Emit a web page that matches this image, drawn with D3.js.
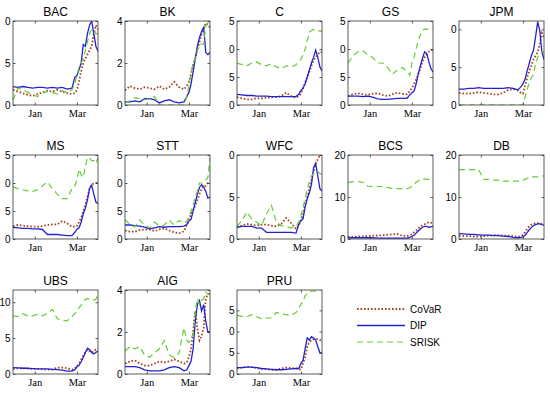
<!DOCTYPE html>
<html>
<head>
<meta http-equiv="Content-Type" content="text/html;charset=utf-8"/>
<title>CoVaR / DIP / SRISK</title>
<script src="https://d3js.org/d3.v7.min.js"></script>
<style>
	body { margin: 0; background: #fff; }
	text { font-family: "Liberation Sans", Arial, sans-serif; fill: #000; }
	.title { font-size: 12px; }
	.ylab { font-size: 10px; }
	.xlab { font-family: "Liberation Serif", "Times New Roman", serif; font-size: 10.5px; }
	.legend text { font-size: 10px; }
	.frame { fill: none; stroke: #333; stroke-width: 0.8px; }
	.tick line { stroke: #333; stroke-width: 0.8px; }
</style>
</head>
<body>
<svg width="550" height="393"></svg>
<script>
// institutions, in panel order
var banks = ["BAC", "BK", "C", "GS", "JPM", "MS", "STT", "WFC", "BCS", "DB", "UBS", "AIG", "PRU"];

// sample days, counted from 1 Dec 2019
var days = [0, 7, 14, 21, 28, 35, 42, 49, 56, 63, 70, 77, 84, 88, 91, 94, 97, 100, 103, 106, 109, 112, 115, 118, 121];

// upper y limit and y ticks per panel
var yMax = {BAC: 10, BK: 4, C: 15, GS: 15, JPM: 11.1, MS: 15, STT: 15, WFC: 10, BCS: 20, DB: 20, UBS: 11.7, AIG: 4, PRU: 19.8};
var yTicks = {BAC: [0, 5, 10], BK: [0, 2, 4], C: [0, 5, 10, 15], GS: [0, 5, 10, 15], JPM: [0, 5, 10],
	MS: [0, 5, 10, 15], STT: [0, 5, 10, 15], WFC: [0, 5, 10], BCS: [0, 10, 20], DB: [0, 10, 20],
	UBS: [0, 5, 10], AIG: [0, 2, 4], PRU: [0, 5, 10, 15]};
// panels whose leading tick digit is cut off in the original
var cutLabels = ["BAC", "C", "GS", "JPM", "MS", "STT", "WFC", "PRU"];

var xTicks = [new Date(2020, 0, 1), new Date(2020, 2, 1)];

var covar = {
	BAC: [1.8,1.6,1.4,1.2,1.1,1.3,1.5,1.7,1.6,1.8,1.6,1.4,1.3,1.4,1.8,2.8,4.0,5.0,5.5,6.0,6.5,7.0,8.5,9.5,9.0],
	BK:  [0.7,0.9,0.8,0.75,0.85,0.8,0.75,0.9,0.75,0.85,1.1,0.85,0.75,0.9,1.1,1.5,1.9,2.2,2.6,3.0,3.4,3.6,3.9,3.8,3.7],
	C:   [1.4,1.2,1.0,1.0,1.2,1.2,1.3,1.4,1.4,1.6,2.2,1.6,1.3,1.6,2.0,3.0,4.0,5.0,6.0,7.0,8.0,8.5,9.0,9.5,9.5],
	GS:  [1.6,1.9,2.1,1.9,1.8,2.0,2.1,1.8,1.6,1.9,2.2,2.0,1.9,2.5,3.0,3.8,4.5,5.5,6.5,7.8,8.5,9.0,9.5,9.8,9.8],
	JPM: [1.6,1.5,1.5,1.6,1.7,1.6,1.5,1.4,1.4,1.6,2.0,2.1,1.9,1.6,1.5,2.5,3.6,4.5,5.2,6.0,6.5,7.0,8.0,9.5,9.0],
	MS:  [2.3,2.5,2.4,2.3,2.2,2.2,2.3,2.5,2.6,2.6,3.2,2.8,2.2,2.2,2.3,3.0,3.8,5.0,6.0,7.5,9.0,9.7,9.9,10.0,10.0],
	STT: [1.5,1.3,1.3,1.6,1.7,1.7,1.4,1.7,1.9,1.5,1.2,1.0,1.4,2.5,3.5,4.5,5.2,6.0,7.0,8.0,9.0,9.5,9.5,10.0,10.0],
	WFC: [1.4,1.6,1.8,1.7,1.6,1.7,1.7,1.6,1.5,1.8,2.5,1.9,1.2,1.6,2.2,3.0,4.2,5.0,6.0,7.0,8.0,9.0,9.5,10.0,10.0],
	BCS: [0.5,0.5,0.6,0.6,0.7,0.8,0.8,0.9,1.0,1.1,1.2,0.8,0.7,0.9,1.1,1.6,2.0,2.5,3.0,3.3,3.5,3.8,4.0,3.9,3.8],
	DB:  [0.8,0.7,0.7,0.6,0.6,0.7,0.8,0.9,0.9,0.8,0.8,0.7,0.5,0.7,1.0,1.6,2.4,3.0,3.4,3.6,3.8,3.8,3.7,3.6,3.6],
	UBS: [0.7,0.8,0.8,0.75,0.7,0.7,0.65,0.6,0.6,0.9,0.9,0.8,0.6,0.8,1.0,1.5,2.0,2.6,3.0,3.4,3.2,3.0,3.2,3.4,3.6],
	AIG: [0.5,0.6,0.65,0.5,0.4,0.4,0.5,0.6,0.55,0.6,0.7,0.6,0.5,0.55,0.8,1.2,2.0,3.0,2.2,1.6,1.8,2.2,3.6,3.8,3.8],
	PRU: [1.3,1.5,1.7,1.6,1.4,1.2,1.1,1.0,1.0,1.3,1.5,1.4,1.3,1.1,1.0,2.5,4.0,6.5,7.5,8.0,8.2,8.2,8.2,8.0,8.0]
};

var dip = {
	BAC: [2.2,2.1,2.2,2.1,2.0,2.1,2.1,2.0,2.1,2.0,2.1,1.9,2.0,3.3,3.5,4.2,5.0,7.2,7.0,8.5,9.5,10.0,8.5,7.0,6.4],
	BK:  [0.15,0.15,0.2,0.15,0.3,0.3,0.25,0.1,0.2,0.25,0.15,0.1,0.15,0.4,0.6,1.0,1.6,2.2,2.8,3.2,3.5,3.7,2.5,2.4,2.5],
	C:   [1.9,1.8,1.7,1.7,1.6,1.6,1.6,1.5,1.5,1.5,1.5,1.5,1.5,1.9,2.6,3.0,3.8,5.0,6.2,7.5,8.5,9.8,8.5,6.8,6.1],
	GS:  [1.6,1.6,1.6,1.5,1.6,1.4,1.1,1.0,1.0,1.1,1.2,1.2,1.2,1.8,2.2,2.5,3.8,5.5,7.0,8.3,9.5,9.2,7.8,6.5,5.9],
	JPM: [2.1,2.1,2.2,2.2,2.3,2.2,2.2,2.2,2.2,2.2,2.3,2.2,2.0,2.4,2.8,3.4,4.5,5.5,6.5,7.2,9.0,11.0,9.8,7.0,6.0],
	MS:  [2.1,2.0,1.9,1.9,1.8,1.8,1.7,0.8,0.8,0.8,0.7,0.6,0.6,1.2,1.7,2.0,3.0,4.5,5.5,7.0,9.0,9.6,8.0,6.6,6.3],
	STT: [2.5,2.5,2.4,2.3,2.1,1.8,2.0,2.2,2.1,2.2,2.2,2.2,2.3,2.6,3.2,3.5,5.0,6.5,8.0,9.2,9.7,9.3,8.5,7.3,7.5],
	WFC: [1.4,1.5,1.5,1.5,1.3,1.3,0.8,0.8,0.8,0.8,0.8,0.8,0.7,1.8,2.2,2.4,3.8,4.8,5.5,6.5,8.5,9.0,7.5,6.0,5.7],
	BCS: [0.3,0.3,0.3,0.3,0.3,0.3,0.2,0.2,0.2,0.2,0.2,0.2,0.2,0.4,0.6,0.9,1.4,1.9,2.4,2.8,3.0,3.0,2.8,2.9,3.0],
	DB:  [1.3,1.2,1.1,1.1,1.0,0.9,0.9,0.8,0.8,0.7,0.6,0.4,0.3,0.4,0.5,0.9,1.5,2.2,2.7,3.2,3.4,3.6,3.6,3.4,3.3],
	UBS: [0.9,0.85,0.8,0.8,0.75,0.7,0.7,0.7,0.65,0.6,0.55,0.4,0.4,0.6,1.0,1.2,1.7,2.3,3.0,3.6,3.4,3.0,2.8,3.0,3.2],
	AIG: [0.35,0.35,0.35,0.3,0.2,0.15,0.15,0.15,0.2,0.3,0.35,0.3,0.15,0.2,0.4,0.6,1.2,2.5,3.3,3.5,3.0,3.3,2.5,2.0,2.0],
	PRU: [1.5,1.5,1.6,1.6,1.5,1.3,1.2,1.1,1.0,1.0,1.1,1.2,1.3,1.3,2.5,3.2,6.0,8.5,8.0,8.8,8.5,8.0,6.5,5.0,5.0]
};

var srisk = {
	BAC: [0.6,2.0,1.8,1.5,1.2,1.0,1.4,1.6,1.5,1.3,1.7,1.5,1.8,2.5,3.5,4.5,5.0,5.5,6.5,7.5,8.5,9.0,9.0,8.5,8.5],
	BK:  [0.1,0.2,0.35,0.3,0.25,0.3,0.4,0,0,0,0,0,0,0.4,0.9,1.5,2.0,2.2,2.6,2.9,2.9,2.9,3.8,3.9,3.9],
	C:   [7.5,7.2,7.0,7.5,7.7,7.2,7.0,7.4,6.8,6.5,7.0,6.8,7.2,7.8,8.2,9.0,10.0,11.5,13.0,13.3,13.5,13.4,13.3,13.2,13.2],
	GS:  [7.5,8.8,9.5,9.7,9.0,8.5,7.5,7.5,6.8,5.5,6.2,6.7,6.0,5.3,7.5,8.5,10.0,11.5,12.5,13.3,13.6,13.5,13.6,13.6,13.6],
	JPM: [0,0,0,0,0,0,0,0,0,0,0,0,0,0,0,1.0,2.0,3.0,3.6,4.0,5.5,6.3,6.8,7.0,7.0],
	MS:  [9.3,9.0,8.8,8.6,8.5,8.8,9.5,10.2,9.0,8.0,7.2,7.2,9.0,9.5,10.5,12.5,11.5,11.0,13.0,14.5,14.5,14.0,14.0,13.5,14.5],
	STT: [3.5,2.5,2.2,3.4,2.5,2.0,3.0,2.3,2.5,3.4,2.5,3.3,2.8,3.2,4.0,5.0,6.0,7.5,8.5,10.0,10.0,10.0,10.5,11.0,14.5],
	WFC: [1.5,2.2,3.2,2.4,2.0,1.6,3.0,4.0,2.0,1.6,1.5,1.3,1.5,2.0,2.8,3.8,4.8,6.0,6.8,7.5,7.8,8.0,8.0,7.8,7.7],
	BCS: [13.5,13.6,13.7,13.5,12.6,12.5,12.5,12.5,12.3,12.0,12.0,12.0,12.0,12.2,12.6,13.0,13.5,13.8,14.2,14.3,14.3,14.2,14.2,14.2,14.3],
	DB:  [16.5,16.5,16.5,16.5,16.5,14.2,14.2,14.0,14.0,13.8,13.8,13.8,13.8,13.9,14.0,14.2,14.4,14.7,14.8,14.8,14.8,14.8,14.9,15.0,15.0],
	UBS: [8.1,8.0,8.4,8.1,8.1,8.3,8.1,8.5,9.0,7.7,7.5,7.4,8.0,8.4,8.8,9.2,9.6,10.0,10.4,10.5,10.4,10.3,10.3,10.4,11.2],
	AIG: [1.1,1.3,1.2,1.3,0.9,0.8,1.0,1.2,1.6,0.9,0.8,1.0,2.2,1.6,1.5,1.7,1.9,3.0,3.6,3.3,3.5,3.6,3.9,3.8,3.8],
	PRU: [13.8,13.6,13.5,14.0,13.5,13.0,13.2,13.2,14.5,14.2,14.0,13.8,14.5,15.5,16.5,17.0,18.5,19.0,19.3,19.5,19.5,19.6,19.7,19.8,19.8]
};

var series = [
	{name: "CoVaR", data: covar, color: "#a3441c", width: 1.8, dash: "1.6,1.9"},
	{name: "DIP",   data: dip,   color: "#2222d4", width: 1.3, dash: null},
	{name: "SRISK", data: srisk, color: "#66cc33", width: 1.2, dash: "6,4"}
];

var svg = d3.select("svg");
var colLeft = [13, 125, 237, 348, 459];
var rowTop = [21, 155, 290];
var pw = 85, ph = 84;

var x = d3.scaleTime()
	.domain([new Date(2019, 11, 1), new Date(2019, 11, 1 + 121)])
	.range([0, pw]);
var dates = days.map(function(d) { return new Date(2019, 11, 1 + d); });

banks.forEach(function(b, i) {
	var left = colLeft[i % 5], top = rowTop[Math.floor(i / 5)];
	var g = svg.append("g").attr("transform", "translate(" + left + "," + top + ")");
	var y = d3.scaleLinear().domain([0, yMax[b]]).range([ph, 0]);

	// clip for the lines
	svg.append("clipPath").attr("id", "clip" + i)
		.append("rect").attr("width", pw).attr("height", ph);
	// clip for y labels (leading digit is hidden on some panels)
	var room = cutLabels.indexOf(b) >= 0 ? 8.4 : 16;
	svg.append("clipPath").attr("id", "lclip" + i)
		.append("rect").attr("x", -room).attr("y", -10).attr("width", room).attr("height", ph + 20);

	g.append("text").attr("class", "title")
		.attr("x", pw / 2).attr("y", -5)
		.attr("text-anchor", "middle").text(b);

	var lines = g.append("g").attr("clip-path", "url(#clip" + i + ")");
	series.forEach(function(s) {
		var line = d3.line()
			.x(function(v, k) { return x(dates[k]); })
			.y(function(v) { return y(v); });
		lines.append("path")
			.datum(s.data[b])
			.attr("d", line)
			.attr("fill", "none")
			.attr("stroke", s.color)
			.attr("stroke-width", s.width)
			.attr("stroke-dasharray", s.dash);
	});

	// axes with inward ticks on all four sides
	var bottom = g.append("g").attr("transform", "translate(0," + ph + ")")
		.call(d3.axisBottom(x).tickValues(xTicks).tickSize(-2.5).tickPadding(5)
			.tickFormat(d3.timeFormat("%b")));
	bottom.selectAll("text").attr("class", "xlab").attr("dy", "0.71em");
	g.append("g").call(d3.axisTop(x).tickValues(xTicks).tickSize(-2.5).tickFormat(""));

	var leftAx = g.append("g").attr("clip-path", "url(#lclip" + i + ")")
		.call(d3.axisLeft(y).tickValues(yTicks[b]).tickSize(0).tickPadding(2.5)
			.tickFormat(d3.format("d")));
	leftAx.selectAll("text").attr("class", "ylab");
	g.append("g").call(d3.axisLeft(y).tickValues(yTicks[b]).tickSize(-2.5).tickFormat(""));
	g.append("g").attr("transform", "translate(" + pw + ",0)")
		.call(d3.axisRight(y).tickValues(yTicks[b]).tickSize(-2.5).tickFormat(""));

	g.selectAll(".domain").remove();
	g.append("rect").attr("class", "frame").attr("width", pw).attr("height", ph);
});

// legend
var legend = svg.append("g").attr("class", "legend").attr("transform", "translate(357,309)");
series.forEach(function(s, k) {
	var row = legend.append("g").attr("transform", "translate(0," + (k * 16.5) + ")");
	row.append("line").attr("x1", 0).attr("x2", 48)
		.attr("stroke", s.color).attr("stroke-width", s.width)
		.attr("stroke-dasharray", s.dash);
	row.append("text").attr("x", 53).attr("dy", "0.35em").text(s.name);
});
</script>
</body>
</html>
